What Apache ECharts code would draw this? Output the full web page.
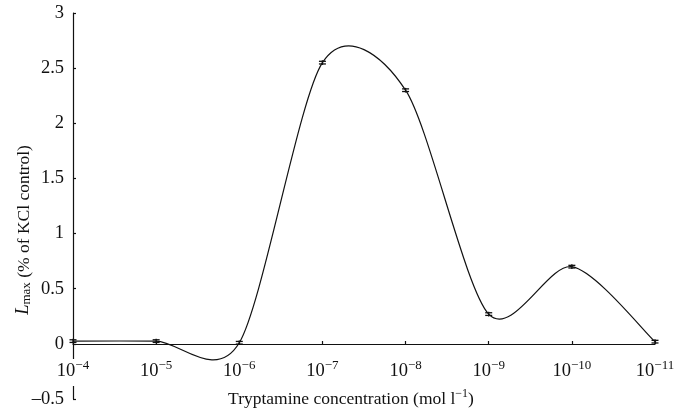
<!DOCTYPE html>
<html>
<head>
<meta charset="utf-8">
<script src="https://cdn.jsdelivr.net/npm/echarts@6/dist/echarts.min.js"></script>
<style>
html,body{margin:0;padding:0;background:#fff;}
#chart{width:689px;height:412px;}
</style>
</head>
<body>
<div id="chart"></div>
<script>
// Data
var categories = ['\u22124', '\u22125', '\u22126', '\u22127', '\u22128', '\u22129', '\u221210', '\u221211'];
var lmaxValues = [0.025, 0.025, 0.01, 2.55, 2.30, 0.27, 0.70, 0.02];
var errorValues = [0.012, 0.012, 0.012, 0.012, 0.012, 0.012, 0.012, 0.012];
var yTicks = { min: -0.5, max: 3, interval: 0.5 };

var FONT = '"Liberation Serif", "Times New Roman", "DejaVu Serif", serif';
var TENSION = 0.85;

var chart = echarts.init(document.getElementById('chart'));

function renderCurve(params, api) {
  if (params.dataIndex !== 0) return null;
  var pts = lmaxValues.map(function (v, i) { return api.coord([i, v]); });
  var n = pts.length;
  function P(i) { return pts[Math.max(0, Math.min(n - 1, i))]; }
  var d = 'M' + pts[0][0] + ' ' + pts[0][1];
  for (var i = 0; i < n - 1; i++) {
    var p0 = P(i - 1), p1 = P(i), p2 = P(i + 1), p3 = P(i + 2);
    var c1x = p1[0] + (p2[0] - p0[0]) * TENSION / 6;
    var c1y = p1[1] + (p2[1] - p0[1]) * TENSION / 6;
    var c2x = p2[0] - (p3[0] - p1[0]) * TENSION / 6;
    var c2y = p2[1] - (p3[1] - p1[1]) * TENSION / 6;
    d += ' C' + c1x + ' ' + c1y + ' ' + c2x + ' ' + c2y + ' ' + p2[0] + ' ' + p2[1];
  }
  return {
    type: 'path',
    shape: { pathData: d },
    style: { stroke: '#111', fill: null, lineWidth: 1.2 }
  };
}

function renderErr(params, api) {
  var i = api.value(0), v = api.value(1), e = api.value(2);
  var top = api.coord([i, v + e]);
  var bot = api.coord([i, v - e]);
  var w = 3.5;
  var st = { stroke: '#111', lineWidth: 1.3 };
  return {
    type: 'group',
    children: [
      { type: 'line', shape: { x1: top[0], y1: top[1] - 1, x2: bot[0], y2: bot[1] + 1 }, style: st },
      { type: 'line', shape: { x1: top[0] - w, y1: top[1], x2: top[0] + w, y2: top[1] }, style: st },
      { type: 'line', shape: { x1: bot[0] - w, y1: bot[1], x2: bot[0] + w, y2: bot[1] }, style: st }
    ]
  };
}

var option = {
  backgroundColor: '#fff',
  animation: false,
  grid: { left: 73, right: 34, top: 13, bottom: 13, containLabel: false, outerBoundsMode: 'none' },
  xAxis: {
    type: 'category',
    data: categories,
    boundaryGap: false,
    position: 'bottom',
    offset: -55,
    z: 5,
    axisLine: { onZero: false, lineStyle: { color: '#111', width: 1.2 } },
    axisTick: { show: true, inside: true, length: 3, alignWithLabel: true, interval: 0, lineStyle: { color: '#111', width: 1.2 } },
    axisLabel: {
      interval: 0,
      hideOverlap: false,
      margin: 15,
      formatter: function (v) { return '{b|10}{e|' + v + '}'; },
      backgroundColor: '#fff', padding: [0, 1, 5, 1],
      rich: {
        b: { fontFamily: FONT, fontSize: 18.5, color: '#111', lineHeight: 22, verticalAlign: 'bottom' },
        e: { fontFamily: FONT, fontSize: 13, color: '#111', lineHeight: 13, verticalAlign: 'top' }
      }
    },
    splitLine: { show: false }
  },
  yAxis: {
    type: 'value',
    min: yTicks.min, max: yTicks.max, interval: yTicks.interval,
    z: 1,
    axisLine: { show: true, onZero: false, lineStyle: { color: '#111', width: 1.2 } },
    axisTick: { show: true, inside: true, length: 3, lineStyle: { color: '#111', width: 1.2 } },
    axisLabel: {
      margin: 9,
      fontFamily: FONT, fontSize: 18.5, color: '#111',
      formatter: function (v) { return String(v).replace('-', '\u2013'); }
    },
    splitLine: { show: false }
  },
  graphic: [
    {
      type: 'text',
      x: 22, y: 230,
      rotation: Math.PI / 2,
      style: {
        text: '{i|L}{s|max}{n| (% of KCl control)}',
        align: 'center', verticalAlign: 'middle',
        fill: '#111',
        rich: {
          i: { fontFamily: FONT, fontSize: 18.5, fontStyle: 'italic', fill: '#111', lineHeight: 22, verticalAlign: 'bottom' },
          s: { fontFamily: FONT, fontSize: 13, fill: '#111', lineHeight: 22, verticalAlign: 'bottom', padding: [8, 0, 0, 0] },
          n: { fontFamily: FONT, fontSize: 17.5, fill: '#111', lineHeight: 22, verticalAlign: 'bottom' }
        }
      }
    },
    {
      type: 'text',
      x: 351, y: 398,
      style: {
        text: '{n|Tryptamine concentration (mol l}{e|\u22121}{n|)}',
        align: 'center', verticalAlign: 'middle',
        fill: '#111',
        rich: {
          n: { fontFamily: FONT, fontSize: 17.5, fill: '#111', lineHeight: 20, verticalAlign: 'bottom' },
          e: { fontFamily: FONT, fontSize: 12, fill: '#111', lineHeight: 12, verticalAlign: 'top' }
        }
      }
    }
  ],
  series: [
    {
      type: 'custom',
      name: 'curve',
      renderItem: renderCurve,
      data: lmaxValues.map(function (v, i) { return [i, v]; }),
      z: 6,
      silent: true
    },
    {
      type: 'custom',
      name: 'error',
      renderItem: renderErr,
      data: lmaxValues.map(function (v, i) { return [i, v, errorValues[i]]; }),
      z: 7,
      silent: true
    }
  ]
};
chart.setOption(option);
</script>
</body>
</html>
